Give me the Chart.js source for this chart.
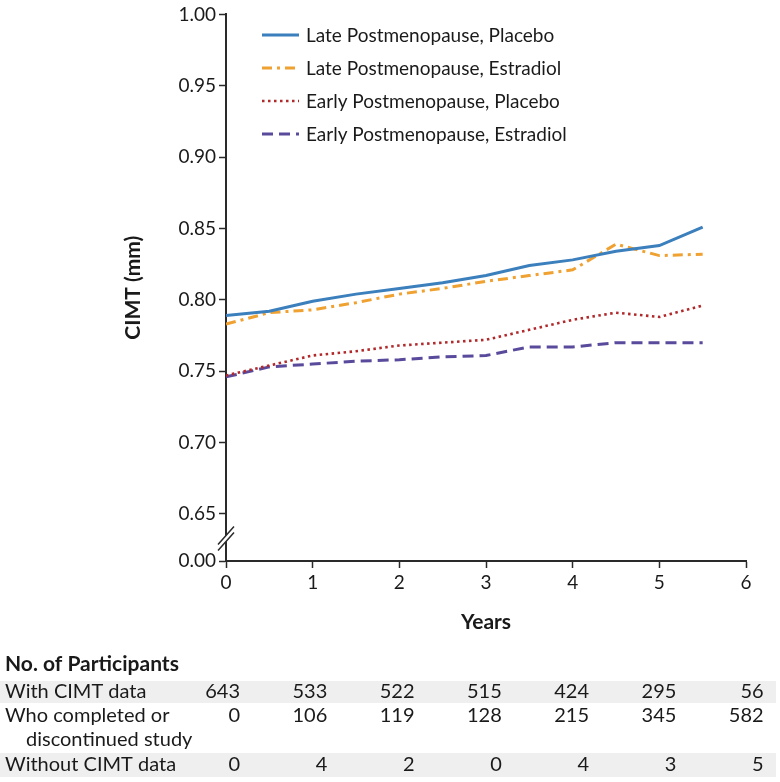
<!DOCTYPE html>
<html>
<head>
<meta charset="utf-8">
<script src="https://cdn.jsdelivr.net/npm/chart.js@4"></script>
<style>
  html, body { margin: 0; padding: 0; background: #fff; }
  #wrap { width: 780px; height: 782px; }
</style>
</head>
<body>
<div id="wrap"><canvas id="myChart" width="780" height="782"></canvas></div>
<script>
// values (CIMT in mm, every half year)
const years = [0, 0.5, 1, 1.5, 2, 2.5, 3, 3.5, 4, 4.5, 5, 5.5];
const latePlacebo   = [0.789, 0.792, 0.799, 0.804, 0.808, 0.812, 0.817, 0.824, 0.828, 0.834, 0.838, 0.851];
const lateEstradiol = [0.783, 0.791, 0.793, 0.798, 0.804, 0.808, 0.813, 0.817, 0.821, 0.839, 0.831, 0.832];
const earlyPlacebo  = [0.747, 0.754, 0.761, 0.764, 0.768, 0.770, 0.772, 0.779, 0.786, 0.791, 0.788, 0.796];
const earlyEstradiol= [0.746, 0.753, 0.755, 0.757, 0.758, 0.760, 0.761, 0.767, 0.767, 0.770, 0.770, 0.770];

const seriesLabels = [
  'Late Postmenopause, Placebo',
  'Late Postmenopause, Estradiol',
  'Early Postmenopause, Placebo',
  'Early Postmenopause, Estradiol'
];

const yTickValues = [0.65, 0.70, 0.75, 0.80, 0.85, 0.90, 0.95, 1.00];
const yBreakLabel = '0.00';
const yMin = 0.617;

// number-at-risk table
const tableYears = [0, 1, 2, 3, 4, 5, 6];
const withCimt    = [643, 533, 522, 515, 424, 295, 56];
const completed   = [0, 106, 119, 128, 215, 345, 582];
const withoutCimt = [0, 4, 2, 0, 4, 3, 5];

const FONT = 'Lato, "Open Sans", sans-serif';
const TXT = '#1a1a1a';
const AXIS = '#2a2a2a';

const toPts = arr => arr.map((v, i) => ({ x: years[i], y: v }));

const data = {
  datasets: [
    { label: seriesLabels[0], data: toPts(latePlacebo), borderColor: '#3b7fbd', borderWidth: 3, borderDash: [] },
    { label: seriesLabels[1], data: toPts(lateEstradiol), borderColor: '#efa131', borderWidth: 3, borderDash: [10, 5, 3, 5] },
    { label: seriesLabels[2], data: toPts(earlyPlacebo), borderColor: '#b0292b', borderWidth: 2.6, borderDash: [2.5, 3.5] },
    { label: seriesLabels[3], data: toPts(earlyEstradiol), borderColor: '#5a4a9c', borderWidth: 3, borderDash: [11, 6] }
  ]
};

// legend drawn inside the plot, top left
const legendInside = {
  id: 'legendInside',
  afterDraw(chart) {
    const ctx = chart.ctx;
    ctx.save();
    ctx.font = '19px ' + FONT;
    ctx.textBaseline = 'middle';
    chart.data.datasets.forEach((ds, i) => {
      const y = 35 + i * 33;
      ctx.strokeStyle = ds.borderColor;
      ctx.lineWidth = ds.borderWidth;
      ctx.setLineDash(ds.borderDash);
      ctx.beginPath();
      ctx.moveTo(262, y);
      ctx.lineTo(299, y);
      ctx.stroke();
      ctx.setLineDash([]);
      ctx.fillStyle = TXT;
      ctx.fillText(ds.label, 306, y + 1);
    });
    ctx.restore();
  }
};

// axis break marks between 0.65 and 0.00
const axisBreak = {
  id: 'axisBreak',
  afterDraw(chart) {
    const ctx = chart.ctx;
    const ys = chart.scales.y;
    const x = chart.chartArea.left;
    const yc = (ys.getPixelForValue(0.65) + ys.getPixelForValue(yMin)) / 2;
    ctx.save();
    ctx.fillStyle = '#fff';
    ctx.beginPath();
    ctx.moveTo(x - 8, yc + 7);
    ctx.lineTo(x + 8, yc - 11);
    ctx.lineTo(x + 8, yc - 5);
    ctx.lineTo(x - 8, yc + 13);
    ctx.closePath();
    ctx.fill();
    ctx.strokeStyle = AXIS;
    ctx.lineWidth = 1.5;
    ctx.beginPath();
    ctx.moveTo(x - 8, yc + 7); ctx.lineTo(x + 8, yc - 11);
    ctx.moveTo(x - 8, yc + 13); ctx.lineTo(x + 8, yc - 5);
    ctx.stroke();
    ctx.restore();
  }
};

// "No. of Participants" table under the plot
const riskTable = {
  id: 'riskTable',
  beforeDraw(chart) {
    const ctx = chart.ctx;
    ctx.save();
    ctx.fillStyle = '#efefef';
    ctx.fillRect(0, 681, 776, 22);
    ctx.fillRect(0, 753, 776, 24);
    ctx.restore();
  },
  afterDraw(chart) {
    const ctx = chart.ctx;
    const xs = chart.scales.x;
    ctx.save();
    ctx.fillStyle = TXT;
    ctx.textBaseline = 'alphabetic';
    ctx.font = 'bold 21px ' + FONT;
    ctx.fillText('No. of Participants', 5, 671);
    ctx.font = '20px ' + FONT;
    ctx.fillText('With CIMT data', 5, 698);
    ctx.fillText('Who completed or', 5, 722);
    ctx.fillText('discontinued study', 26, 746);
    ctx.fillText('Without CIMT data', 5, 771);
    ctx.textAlign = 'right';
    const rows = [[withCimt, 698], [completed, 722], [withoutCimt, 771]];
    rows.forEach(([vals, y]) => {
      vals.forEach((v, i) => {
        const xr = xs.getPixelForValue(tableYears[i]) + 14 + i * 0.6;
        ctx.fillText(String(v), xr, y);
      });
    });
    ctx.restore();
  }
};

const ctx = document.getElementById('myChart').getContext('2d');
const myChart = new Chart(ctx, {
  type: 'line',
  data: data,
  options: {
    responsive: false,
    maintainAspectRatio: false,
    animation: false,
    layout: { padding: { top: 13, right: 34, left: 0, bottom: 0 } },
    elements: {
      point: { radius: 0 },
      line: { tension: 0, borderCapStyle: 'butt' }
    },
    plugins: {
      legend: { display: false },
      tooltip: { enabled: false }
    },
    scales: {
      x: {
        type: 'linear',
        min: 0,
        max: 6,
        afterFit(scale) { scale.height = 221; },
        ticks: { stepSize: 1, color: TXT, padding: 3, font: { family: FONT, size: 19 } },
        grid: { drawOnChartArea: false, tickLength: 7, color: AXIS, tickWidth: 1.5 },
        border: { color: AXIS, width: 2 },
        title: {
          display: true,
          text: 'Years',
          color: TXT,
          font: { family: FONT, size: 21, weight: 'bold' },
          padding: { top: 0, bottom: 147 }
        }
      },
      y: {
        min: yMin,
        max: 1.0,
        afterFit(scale) { scale.width = 226; },
        afterBuildTicks(scale) {
          scale.ticks = [{ value: yMin }].concat(yTickValues.map(v => ({ value: v })));
        },
        ticks: {
          color: TXT,
          padding: 3,
          font: { family: FONT, size: 19 },
          callback: function (value) {
            return value === yMin ? yBreakLabel : value.toFixed(2);
          }
        },
        grid: { drawOnChartArea: false, tickLength: 7, color: AXIS, tickWidth: 1.5 },
        border: { color: AXIS, width: 2 },
        title: {
          display: true,
          text: 'CIMT (mm)',
          color: TXT,
          font: { family: FONT, size: 21, weight: 'bold' },
          padding: { top: 121, bottom: 0 }
        }
      }
    }
  },
  plugins: [riskTable, legendInside, axisBreak]
});
</script>
</body>
</html>
